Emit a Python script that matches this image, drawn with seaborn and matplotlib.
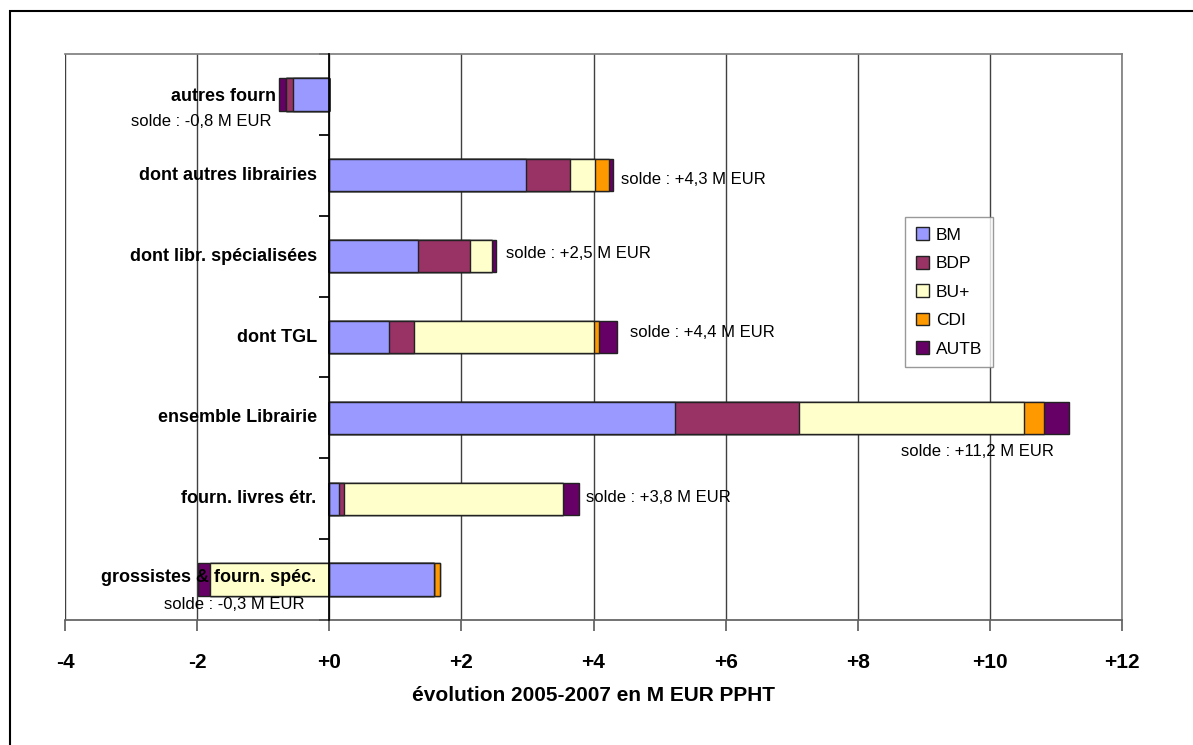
import matplotlib
matplotlib.use("Agg")
import matplotlib.pyplot as plt
from matplotlib.patches import Patch, Rectangle
import numpy as np
import seaborn as sns

# data (M EUR PPHT, evolution 2005-2007)
categories = ["autres fourn", "dont autres librairies", "dont libr. spécialisées",
              "dont TGL", "ensemble Librairie", "fourn. livres étr.",
              "grossistes & fourn. spéc."]
series = ["BM", "BDP", "BU+", "CDI", "AUTB"]
bm = [-0.55, 2.98, 1.35, 0.90, 5.24, 0.14, 1.58]
bdp = [-0.11, 0.67, 0.78, 0.39, 1.87, 0.08, 0.00]
bu = [0.00, 0.38, 0.33, 2.71, 3.41, 3.32, -1.80]
cdi = [0.00, 0.21, 0.00, 0.09, 0.30, 0.00, 0.09]
autb = [-0.10, 0.05, 0.07, 0.27, 0.37, 0.24, -0.19]
solde = ["-0,8", "+4,3", "+2,5", "+4,4", "+11,2", "+3,8", "-0,3"]
xticks = [-4, -2, 0, 2, 4, 6, 8, 10, 12]
xtick_labels = ["-4", "-2", "+0", "+2", "+4", "+6", "+8", "+10", "+12"]

colors = ["#9999FF", "#993366", "#FFFFCC", "#FF9900", "#660066"]

# where the "solde" notes sit (x, y in data units, horizontal alignment)
solde_pos = [(-0.88, 0.33, "right"), (4.42, 1.05, "left"), (2.67, 1.97, "left"),
             (4.55, 2.95, "left"), (8.65, 4.42, "left"), (3.88, 4.99, "left"),
             (-2.5, 6.31, "left")]
label_pos = [(-0.80, 0.02)] + [(-0.19, i) for i in range(1, 6)] + [(-0.19, 5.97)]

sns.set_theme(style="white")
plt.rcParams["font.family"] = ["Liberation Sans", "DejaVu Sans"]
plt.rcParams["text.color"] = "black"
plt.rcParams["axes.labelcolor"] = "black"
plt.rcParams["xtick.color"] = "black"

fig = plt.figure(figsize=(11.93, 7.45), dpi=100)
ax = fig.add_axes([0.0545, 0.1678, 0.886, 0.7597])

vals = np.array([bm, bdp, bu, cdi, autb])
pos = np.cumsum(np.clip(vals, 0, None), axis=0)
neg = np.cumsum(np.clip(vals, None, 0), axis=0)

# stacked bars: draw cumulative totals from the last series back to the first
for k in range(len(series) - 1, -1, -1):
    for stack in (pos, neg):
        sns.barplot(x=stack[k], y=categories, order=categories, orient="h",
                    color=colors[k], saturation=1, width=0.4,
                    edgecolor="#222222", linewidth=1.0, ax=ax, zorder=3)

ax.set_xlim(-4, 12)
ax.set_ylim(6.5, -0.5)
ax.set_xticks(xticks)
ax.set_xticklabels(xtick_labels, fontsize=15, fontweight="bold")
ax.set_yticks(np.arange(-0.5, 7, 1))
ax.set_yticklabels([])
ax.set_ylabel("")
ax.set_xlabel("évolution 2005-2007 en M EUR PPHT", fontsize=15,
              fontweight="bold", labelpad=10)

ax.grid(axis="x", color="#404040", linewidth=1.0)
ax.set_axisbelow(True)
for s in ["top", "right"]:
    ax.spines[s].set_color("#808080")
ax.spines["bottom"].set_color("#606060")
ax.spines["left"].set_position(("data", 0))
ax.spines["left"].set_color("black")
ax.spines["left"].set_zorder(4)
ax.tick_params(axis="x", direction="out", length=8, color="#606060", pad=16,
               labelcolor="black", bottom=True)
ax.tick_params(axis="y", direction="out", length=7, color="black", left=True)

for (x, y), name in zip(label_pos, categories):
    ax.text(x, y, name, ha="right", va="center", fontsize=13,
            fontweight="bold", color="black", zorder=5)
for (x, y, ha), s in zip(solde_pos, solde):
    ax.text(x, y, f"solde : {s} M EUR", ha=ha, va="center", fontsize=12,
            color="black", zorder=5)

handles = [Patch(facecolor=c, edgecolor="#222222", linewidth=1) for c in colors]
leg = ax.legend(handles, series, loc="upper left", bbox_to_anchor=(0.795, 0.712),
                fontsize=12.5, frameon=True, fancybox=False, edgecolor="#808080",
                handlelength=0.75, handleheight=0.75, handletextpad=0.4,
                labelspacing=0.75, borderpad=0.6, borderaxespad=0)
leg.get_frame().set_linewidth(1.0)
for t in leg.get_texts():
    t.set_color("black")

# outer chart border
fig.add_artist(Rectangle((10 / 1193, -0.5), 1.5, 1.5 - 11 / 745,
                         transform=fig.transFigure, fill=False,
                         edgecolor="black", linewidth=1.5))

fig.savefig("out.png", dpi=100)
